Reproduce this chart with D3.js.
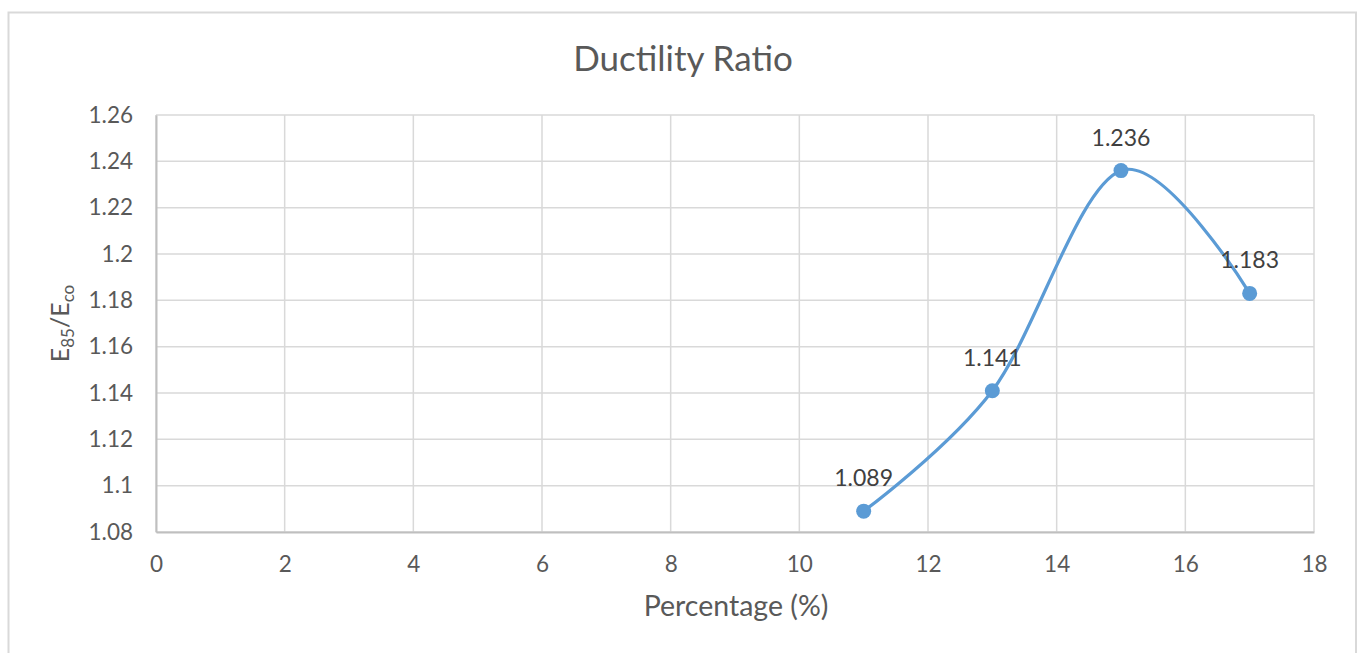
<!DOCTYPE html>
<html>
<head>
<meta charset="utf-8">
<script src="https://cdn.jsdelivr.net/npm/d3@7"></script>
<style>
  html, body { margin: 0; padding: 0; background: #ffffff; }
  svg { display: block; }
  text { font-family: Lato, "Open Sans", sans-serif; }
</style>
</head>
<body>
<svg id="chart" width="1357" height="653"></svg>
<script>
// Ductility ratio (E85/Eco) against percentage
const percentages = [11, 13, 15, 17];
const ratios = [1.089, 1.141, 1.236, 1.183];
const xTicks = [0, 2, 4, 6, 8, 10, 12, 14, 16, 18];
const yTicks = [1.08, 1.10, 1.12, 1.14, 1.16, 1.18, 1.20, 1.22, 1.24, 1.26];

const svg = d3.select("#chart");
const plot = { left: 156, right: 1314, top: 115, bottom: 532 };

// outer chart frame
svg.append("rect")
  .attr("x", 8.5).attr("y", 12.5)
  .attr("width", 1356 - 8.5).attr("height", 700)
  .attr("fill", "#ffffff")
  .attr("stroke", "#d9d9d9").attr("stroke-width", 2);

const x = d3.scaleLinear().domain([0, 18]).range([plot.left, plot.right]);
const y = d3.scaleLinear().domain([1.08, 1.26]).range([plot.bottom, plot.top]);

// gridlines
const grid = svg.append("g");
grid.selectAll("line.h").data(yTicks).join("line")
  .attr("x1", plot.left).attr("x2", plot.right)
  .attr("y1", d => y(d)).attr("y2", d => y(d))
  .attr("stroke", "#d9d9d9").attr("stroke-width", 1.5);
grid.selectAll("line.v").data(xTicks).join("line")
  .attr("x1", d => x(d)).attr("x2", d => x(d))
  .attr("y1", plot.top).attr("y2", plot.bottom)
  .attr("stroke", "#d9d9d9").attr("stroke-width", 1.5);

// axes
const xAxis = svg.append("g")
  .attr("transform", `translate(0,${plot.bottom})`)
  .call(d3.axisBottom(x).tickValues(xTicks).tickSize(0).tickPadding(24).tickFormat(d3.format("d")));
const yAxis = svg.append("g")
  .attr("transform", `translate(${plot.left},0)`)
  .call(d3.axisLeft(y).tickValues(yTicks).tickSize(0).tickPadding(23).tickFormat(d => String(+d.toFixed(2))));

[xAxis, yAxis].forEach(a => {
  a.select(".domain").attr("stroke", "#bfbfbf").attr("stroke-width", 2);
  a.selectAll("text").attr("fill", "#595959").style("font-size", "22.5px");
});

// series line (smoothed) and markers
const pts = percentages.map((p, i) => [p, ratios[i]]);
const line = d3.line()
  .x(d => x(d[0])).y(d => y(d[1]))
  .curve(d3.curveCardinal.tension(0));
svg.append("path")
  .datum(pts)
  .attr("d", line)
  .attr("fill", "none")
  .attr("stroke", "#5b9bd5")
  .attr("stroke-width", 3.2)
  .attr("stroke-linecap", "round");

svg.selectAll("circle.pt").data(pts).join("circle")
  .attr("cx", d => x(d[0])).attr("cy", d => y(d[1]))
  .attr("r", 7.5)
  .attr("fill", "#5b9bd5");

// data labels
svg.selectAll("text.lbl").data(pts).join("text")
  .attr("x", d => x(d[0])).attr("y", d => y(d[1]) - 25)
  .attr("text-anchor", "middle")
  .attr("fill", "#404040")
  .style("font-size", "23px")
  .text(d => d[1].toFixed(3));

// title
svg.append("text")
  .attr("x", 683).attr("y", 71)
  .attr("text-anchor", "middle")
  .attr("fill", "#595959")
  .style("font-size", "35px")
  .text("Ductility Ratio");

// x axis title
svg.append("text")
  .attr("x", 736).attr("y", 616)
  .attr("text-anchor", "middle")
  .attr("fill", "#595959")
  .style("font-size", "28.5px")
  .text("Percentage (%)");

// y axis title with subscripts
const yt = svg.append("text")
  .attr("transform", `translate(69,${(plot.top + plot.bottom) / 2}) rotate(-90)`)
  .attr("text-anchor", "middle")
  .attr("fill", "#595959")
  .style("font-size", "25px");
yt.append("tspan").text("E");
yt.append("tspan").attr("dy", 5).style("font-size", "17px").text("85");
yt.append("tspan").attr("dy", -5).text("/E");
yt.append("tspan").attr("dy", 5).style("font-size", "17px").text("co");
</script>
</body>
</html>
